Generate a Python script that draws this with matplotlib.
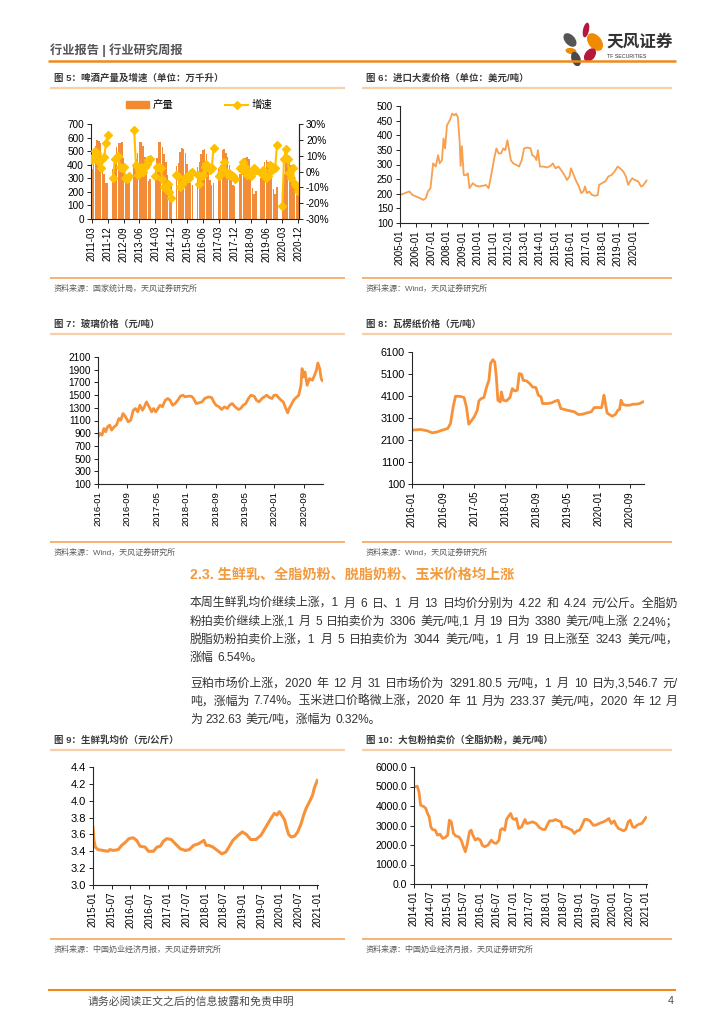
#!/usr/bin/env python3
"""
Page 4 of a TF Securities weekly report: beer, barley, glass, corrugated
paper, raw milk and whole milk powder charts plus the commentary text.
Writes out.png (724x1024).
"""

import numpy as np
import pandas as pd
import matplotlib
matplotlib.use('Agg')
import matplotlib.pyplot as plt
from matplotlib.lines import Line2D
from matplotlib.patches import Ellipse, Patch
from matplotlib.ticker import FuncFormatter

# ---------------------------------------------------------------- data
# beer output (10k kl) and YoY growth (%), Mar..Dec of each year
beer_years = list(range(2011, 2021))
beer_output = [
    [372, 410, 540, 580, 578, 560, 440, 330, 262, 268],
    [365, 430, 530, 560, 560, 565, 452, 320, 270, 285],
    [400, 440, 490, 568, 568, 540, 455, 340, 282, 296],
    [398, 450, 565, 566, 530, 480, 420, 322, 268, 250],
    [392, 412, 496, 522, 516, 485, 405, 300, 262, 248],
    [382, 418, 480, 512, 515, 478, 385, 290, 250, 262],
    [372, 395, 505, 515, 490, 460, 400, 288, 248, 245],
    [332, 345, 430, 448, 458, 440, 350, 225, 186, 205],
    [300, 332, 418, 432, 420, 418, 345, 220, 185, 238],
    [233, 330, 425, 445, 430, 400, 330, 220, 180, 195],
]
beer_growth = [
    [7, 10, 13, 12, 6, 2, 8, 9, 18, 23],
    [-4, 8, 9, 10, 3, 2, 3, -4, -5, -3],
    [26, 4, -2, 1, 3, 0, 3, 5, 7, 8],
    [-3, 3, 3, 2, -5, -10, -11, -8, -13, -17],
    [-2, -3, -10, -8, -6, -4, -3, -4, -1, 0],
    [-2, -8, -3, -2, 3, 5, 3, 1, 2, 15],
    [-3, -1, 2, 6, 0, -2, -1, -2, -3, -5],
    [2, 1, 6, 3, -2, -1, -3, -1, 2, 1],
    [-1, 1, -3, -4, -3, 4, 1, 3, 2, 17],
    [-22, 8, 14, 8, -1, -4, 2, -8, -9, -12],
]

# imported barley price (USD/t), time in decimal years
barley_year = [2005.0, 2005.32, 2005.6, 2005.8, 2006.06, 2006.28, 2006.5, 2006.66,
               2006.8, 2006.96, 2007.13, 2007.3, 2007.45, 2007.55, 2007.7, 2007.8,
               2007.9, 2008.02, 2008.2, 2008.36, 2008.5, 2008.6, 2008.72, 2008.83,
               2008.9, 2008.98, 2009.1, 2009.26, 2009.36, 2009.47, 2009.68, 2009.9,
               2010.1, 2010.32, 2010.53, 2010.7, 2010.85, 2011.06, 2011.2, 2011.34,
               2011.5, 2011.64, 2011.77, 2011.91, 2012.0, 2012.13, 2012.28, 2012.5,
               2012.66, 2012.83, 2012.98, 2013.2, 2013.4, 2013.5, 2013.66, 2013.77,
               2013.87, 2014.0, 2014.2, 2014.47, 2014.68, 2014.83, 2015.0, 2015.2,
               2015.43, 2015.57, 2015.74, 2015.9, 2016.0, 2016.17, 2016.3, 2016.5,
               2016.66, 2016.8, 2016.9, 2017.02, 2017.17, 2017.34, 2017.55, 2017.72,
               2017.8, 2017.98, 2018.2, 2018.4, 2018.6, 2018.8, 2019.0, 2019.15,
               2019.36, 2019.53, 2019.68, 2019.79, 2019.94, 2020.1, 2020.32, 2020.5,
               2020.6, 2020.74, 2020.85]
barley_price = [196, 202, 208, 196, 190, 185, 179, 185,
                208, 219, 304, 293, 332, 304, 315, 389,
                355, 434, 451, 474, 468, 474, 462, 383,
                295, 363, 264, 264, 270, 219, 236, 227,
                225, 227, 230, 219, 259, 321, 355, 338,
                338, 355, 349, 383, 355, 315, 304, 298,
                293, 315, 355, 358, 355, 332, 327, 315,
                349, 293, 293, 290, 295, 304, 287, 293,
                276, 264, 247, 259, 287, 264, 247, 225,
                202, 208, 225, 202, 208, 196, 193, 196,
                230, 236, 242, 259, 264, 276, 293, 287,
                276, 259, 230, 242, 253, 247, 242, 225,
                227, 236, 245]

# glass price (CNY/t), months since 2016-01
glass_month = [0, 0.5, 1.1, 1.6, 2.1, 2.6, 3.2, 3.7, 4.4, 5, 5.7, 6.2, 6.8, 7.5,
               8.2, 8.9, 9.6, 10.2, 10.8, 11.4, 12.1, 12.6, 13.2, 13.9, 14.6,
               15.1, 15.7, 16.3, 16.9, 17.5, 18.3, 19, 19.6, 20.3, 21, 21.7, 22.4,
               23.1, 23.7, 24.5, 25.4, 26, 26.7, 27.4, 28.3, 29, 30, 30.9, 31.5,
               32.1, 32.9, 33.6, 34.4, 35.2, 35.8, 36.5, 37.3, 38.2, 38.8, 39.5,
               40.2, 40.9, 41.6, 42.5, 43.1, 43.8, 44.6, 45.2, 45.9, 46.6, 47.3,
               47.9, 48.6, 49.1, 49.8, 50.4, 50.9, 51.6, 52, 52.5, 53.2, 53.9,
               54.6, 55.2, 55.5, 55.9, 56.3, 56.9, 57.5, 58.3, 58.9, 59.4, 59.8,
               60.3, 60.7, 61]
glass_price = [843, 896, 870, 974, 922, 1001, 1027, 948, 1001, 1027, 1131, 1105,
               1210, 1158, 1079, 1105, 1262, 1289, 1236, 1341, 1262, 1315, 1393,
               1315, 1236, 1289, 1236, 1289, 1341, 1315, 1419, 1446, 1419, 1341,
               1367, 1419, 1482, 1498, 1472, 1482, 1482, 1446, 1367, 1378, 1393,
               1446, 1472, 1462, 1393, 1341, 1315, 1273, 1315, 1289, 1341, 1367,
               1315, 1273, 1289, 1341, 1367, 1446, 1498, 1482, 1419, 1393, 1446,
               1472, 1498, 1462, 1446, 1498, 1498, 1462, 1419, 1393, 1315, 1220,
               1289, 1341, 1419, 1462, 1498, 1655, 1917, 1786, 1865, 1655, 1760,
               1734, 1812, 1891, 2006, 1917, 1760, 1730]

# corrugated paper price (CNY/t), months since 2016-01
paper_month = [0, 2.2, 3.9, 5.2, 6.3, 7.8, 9.2, 9.9, 10.6, 11.2, 12.1, 12.9, 13.4,
               14, 14.6, 15.3, 16.1, 16.8, 17.2, 17.8, 18.5, 19.2, 19.8, 20.2,
               20.8, 21.3, 21.7, 22.1, 22.7, 23, 23.5, 24.3, 25.2, 25.8, 26.4,
               27.1, 27.6, 28.2, 28.6, 29.5, 30.3, 31, 31.9, 32.5, 33.2, 33.6,
               34.9, 35.9, 37, 37.6, 38.3, 39, 39.9, 40.7, 41.8, 42.8, 43.9, 45,
               46.1, 46.9, 47.8, 48.8, 49.4, 49.7, 50.2, 50.8, 51.5, 52.3, 53,
               53.4, 53.8, 54.3, 55.1, 56, 56.8, 57.7, 58.6, 59.4]
paper_price = [2548, 2578, 2518, 2427, 2457, 2548, 2623, 2850, 3606, 4089, 4089,
               4059, 4029, 3606, 2820, 2971, 3182, 3454, 3877, 3983, 4029, 4512,
               4814, 5570, 5751, 5645, 4965, 3907, 3832, 4285, 3907, 3877, 4029,
               4436, 4331, 4361, 5117, 5086, 4814, 4784, 4663, 4512, 4482, 4134,
               4059, 3757, 3757, 3787, 3877, 3907, 3530, 3500, 3454, 3424, 3379,
               3258, 3273, 3333, 3379, 3575, 3575, 3575, 4134, 3832, 3333, 3258,
               3182, 3258, 3454, 3485, 3907, 3711, 3681, 3681, 3726, 3726, 3757,
               3832]

# raw milk average price (CNY/kg), months since 2015-01
milk_month = [0, 0.3, 0.75, 1.6, 3.2, 4.8, 5.4, 6.5, 8.1, 9.2, 10.5, 11.5, 12.9,
              14, 15.1, 16.7, 17.8, 19.4, 20.5, 21.6, 22.6, 23.7, 25.1, 26.4, 28,
              29.6, 30.9, 32.3, 33.9, 35.6, 36.3, 37.2, 38.5, 39.9, 41.3, 42.6,
              43.6, 44.9, 46.3, 47.9, 49.2, 50.6, 52.3, 53.9, 55.5, 57.1, 58.2,
              59, 59.8, 60.7, 61.5, 62.2, 62.8, 63.6, 64.7, 65.7, 66.8, 67.6,
              68.4, 69.5, 70.4, 71.1, 72]
milk_price = [3.68, 3.53, 3.45, 3.42, 3.41, 3.40, 3.42, 3.41, 3.42, 3.47, 3.51,
              3.55, 3.56, 3.53, 3.46, 3.45, 3.40, 3.40, 3.45, 3.46, 3.52, 3.55,
              3.54, 3.49, 3.43, 3.41, 3.42, 3.47, 3.49, 3.53, 3.47, 3.47, 3.45,
              3.41, 3.37, 3.39, 3.45, 3.53, 3.58, 3.63, 3.60, 3.54, 3.54, 3.59,
              3.69, 3.79, 3.85, 3.83, 3.87, 3.82, 3.77, 3.67, 3.60, 3.57, 3.58,
              3.63, 3.73, 3.83, 3.91, 3.99, 4.06, 4.16, 4.24]

# whole milk powder auction price (USD/t), months since 2014-01
wmp_month = [0, 1.2, 1.8, 2.4, 3.7, 4.3, 4.9, 5.5, 6.1, 6.7, 7.7, 8.5, 9.4, 10.4,
             11.3, 12.2, 12.8, 13.5, 14.3, 15.2, 16.2, 17.1, 17.9, 18.6, 19.2,
             20.1, 20.7, 21.3, 22.2, 23.1, 24, 24.7, 25.6, 26.8, 28, 28.9, 29.8,
             30.8, 31.3, 32, 32.9, 33.5, 34.1, 35, 35.7, 36.5, 37.1, 37.9, 39,
             40.2, 40.8, 41.8, 43, 44.2, 45.4, 46.6, 47.5, 48.4, 49.1, 50.3,
             51.2, 52.4, 53.2, 53.8, 54.8, 56, 57.2, 58.1, 59.1, 60, 60.9, 61.8,
             62.7, 63.7, 64.9, 65.8, 66.6, 67.6, 68.6, 69.4, 70.6, 71.5, 72.5,
             73.2, 74.1, 74.9, 75.9, 76.7, 77.6, 78.3, 79.2, 80, 80.8, 81.6,
             82.5, 83.2, 84]
wmp_price = [4979, 5013, 4723, 4041, 3956, 3870, 3615, 3444, 2933, 2796, 2762,
             2506, 2558, 2336, 2387, 2506, 3274, 3188, 2592, 2455, 2421, 2251,
             1910, 1654, 1995, 2677, 2762, 2506, 2251, 2336, 2251, 1995, 1910,
             1995, 2251, 2114, 2080, 2251, 2762, 2847, 2762, 3308, 3444, 3615,
             3359, 3308, 3359, 2847, 2933, 3308, 3103, 3137, 3188, 3103, 2899,
             2796, 2796, 3069, 3240, 3240, 3308, 3240, 3188, 2933, 2933, 2847,
             2762, 2592, 2728, 2762, 3018, 3308, 3308, 3240, 3018, 3018, 3069,
             3137, 3188, 3240, 3359, 3103, 3240, 3018, 2847, 2796, 2728, 2796,
             3188, 3274, 2933, 2899, 3018, 3069, 3103, 3240, 3410]

glass_ticks = ['2016-01', '2016-09', '2017-05', '2018-01', '2018-09',
               '2019-05', '2020-01', '2020-09']
milk_ticks = ['2015-01', '2015-07', '2016-01', '2016-07', '2017-01', '2017-07',
              '2018-01', '2018-07', '2019-01', '2019-07', '2020-01', '2020-07',
              '2021-01']
wmp_ticks = ['2014-01', '2014-07', '2015-01', '2015-07', '2016-01', '2016-07',
             '2017-01', '2017-07', '2018-01', '2018-07', '2019-01', '2019-07',
             '2020-01', '2020-07', '2021-01']

para1 = ['本周生鲜乳均价继续上涨，1 月 6 日、1 月 13 日均价分别为 4.22 和 4.24 元/公斤。全脂奶',
         '粉拍卖价继续上涨,1 月 5 日拍卖价为 3306 美元/吨,1 月 19 日为 3380 美元/吨上涨 2.24%；',
         '脱脂奶粉拍卖价上涨，1 月 5 日拍卖价为 3044 美元/吨，1 月 19 日上涨至 3243 美元/吨，',
         '涨幅 6.54%。']
para2 = ['豆粕市场价上涨，2020 年 12 月 31 日市场价为 3291.80.5 元/吨，1 月 10 日为,3,546.7 元/',
         '吨，涨幅为 7.74%。玉米进口价略微上涨，2020 年 11 月为 233.37 美元/吨，2020 年 12 月',
         '为 232.63 美元/吨，涨幅为 0.32%。']

# ---------------------------------------------------------------- style
W, H = 724, 1024
plt.rcParams['font.family'] = ['Liberation Sans', 'Noto Sans CJK SC', 'DejaVu Sans']
plt.rcParams['axes.linewidth'] = 0.8
plt.rcParams['xtick.direction'] = 'out'
plt.rcParams['ytick.direction'] = 'out'

LINE = '#F7923A'
TITLE_C = '#3A3A3A'
SRC_C = '#5A5A5A'
UNDER_C = '#F9CFA8'
SRC_LINE = '#F5A55A'
HEAD_LINE = '#EE8A1E'
RIGHT = 676

fig = plt.figure(figsize=(W / 100, H / 100), dpi=100)


def px_axes(l, t, r, b):
    return fig.add_axes([l / W, 1 - b / H, (r - l) / W, (b - t) / H])


def ftext(x, y, s, **kw):
    kw.setdefault('va', 'center')
    return fig.text(x / W, 1 - y / H, s, **kw)


def hline(x0, x1, y, color, lw):
    fig.add_artist(Line2D([x0 / W, x1 / W], [1 - y / H, 1 - y / H],
                          color=color, lw=lw, solid_capstyle='butt'))


def frame(x0, x1, title, source, ty, sy):
    ftext(x0 + 4, ty, title, fontsize=6.8, weight='bold', color=TITLE_C)
    hline(x0, x1, ty + 9.5, UNDER_C, 1.6)
    hline(x0, x1, sy - 11, SRC_LINE, 1.2)
    ftext(x0 + 4, sy, source, fontsize=5.8, color=SRC_C)


def style(ax, xfs, yfs):
    ax.spines['top'].set_visible(False)
    ax.spines['right'].set_visible(False)
    for s in ('left', 'bottom'):
        ax.spines[s].set_color('#262626')
    ax.tick_params(axis='y', labelsize=yfs, length=3, width=0.6, pad=2)
    ax.tick_params(axis='x', labelsize=xfs, length=3, width=0.6, pad=2,
                   labelrotation=90)
    ax.set_facecolor('none')


# ---------------------------------------------------------------- header
ftext(50, 50, '行业报告 | 行业研究周报', fontsize=8.8, weight='bold', color='#555555')
hline(48, RIGHT, 61, HEAD_LINE, 1.8)

logo = fig.add_axes([558 / W, 1 - 66 / H, 48 / W, 46 / H])
logo.set_xlim(558, 606)
logo.set_ylim(66, 20)
logo.axis('off')
petals = [((586, 30), 6, 15, 12, '#B5173D'),
          ((570, 40), 10, 16, -42, '#555555'),
          ((595, 42), 13, 20, -38, '#F08A00'),
          ((571, 51), 11, 6, 8, '#F08A00'),
          ((590, 55), 10, 15, 38, '#B5173D'),
          ((576, 59), 9, 15, -20, '#4A4A4A')]
for c, w, h, a, col in petals:
    logo.add_patch(Ellipse(c, w, h, angle=a, color=col, lw=0))
ftext(606, 42, '天风证券', fontsize=12, weight='bold', color='#333333')
ftext(607, 56, 'TF SECURITIES', fontsize=3.8, color='#333333')

# ---------------------------------------------------------------- fig 5 beer
frame(50, 345, '图 5：啤酒产量及增速（单位：万千升）', '资料来源：国家统计局，天风证券研究所', 78, 289)

months = pd.period_range('2011-03', '2020-12', freq='M')
output = pd.Series(np.nan, index=months)
growth = pd.Series(np.nan, index=months)
for y, ov, gv in zip(beer_years, beer_output, beer_growth):
    for i in range(10):
        p = pd.Period(f'{y}-{i + 3:02d}', freq='M')
        output[p] = ov[i]
        growth[p] = gv[i]

ax5 = px_axes(91, 124, 299, 219)
x = np.arange(len(months))
ax5.bar(x, output.values, width=0.85, color='#F28C38', lw=0)
ax5.set_ylim(0, 700)
ax5.set_yticks(range(0, 701, 100))
ax5.set_xlim(-0.5, len(months) - 0.5)
ax5.set_xticks(x[::9])
ax5.set_xticklabels([str(p) for p in months[::9]])
style(ax5, 7, 7.2)
ax5.spines['right'].set_visible(True)
ax5.spines['right'].set_color('#262626')

ax5r = ax5.twinx()
ax5r.plot(x, growth.values, color='#FFC000', lw=1.5, marker='D', ms=3.8,
          mec='#FFC000', mfc='#FFC000')
ax5r.set_ylim(-30, 30)
ax5r.set_yticks(range(-30, 31, 10))
ax5r.yaxis.set_major_formatter(FuncFormatter(lambda v, p: f'{v:.0f}%'))
ax5r.tick_params(axis='y', labelsize=7.2, length=3, width=0.6, pad=2)
for s in ('top', 'left', 'bottom'):
    ax5r.spines[s].set_visible(False)
ax5r.spines['right'].set_color('#262626')
handles = [Patch(color='#F28A30', label='产量'),
           Line2D([], [], color='#FFC000', lw=1.5, marker='D', ms=3.8, label='增速')]
ax5.legend(handles=handles, loc='center', bbox_to_anchor=(0.52, 1.2), ncol=2,
           frameon=False, fontsize=7.5, handlelength=2.2, handleheight=0.6,
           columnspacing=5, handletextpad=0.3)

# ---------------------------------------------------------------- fig 6 barley
frame(362, RIGHT - 4, '图 6：进口大麦价格（单位：美元/吨）', '资料来源：Wind，天风证券研究所', 78, 289)
ax6 = px_axes(400, 106, 648, 223)
ax6.plot(barley_year, barley_price, color='#F7A050', lw=1.3)
ax6.set_ylim(100, 500)
ax6.set_yticks(range(100, 501, 50))
ax6.set_xlim(2005.0, 2020.95)
ax6.set_xticks(range(2005, 2021))
ax6.set_xticklabels([f'{y}-01' for y in range(2005, 2021)])
style(ax6, 7, 7)

# ---------------------------------------------------------------- fig 7 glass
frame(50, 345, '图 7：玻璃价格（元/吨）', '资料来源：Wind，天风证券研究所', 324, 553)
ax7 = px_axes(98, 357, 323, 484)
ax7.plot(glass_month, glass_price, color=LINE, lw=2.0)
ax7.set_ylim(100, 2100)
ax7.set_yticks(range(100, 2101, 200))
ax7.set_xlim(0, 61.2)
ax7.set_xticks(range(0, 57, 8))
ax7.set_xticklabels(glass_ticks)
style(ax7, 6.8, 7.2)

# ---------------------------------------------------------------- fig 8 paper
frame(362, RIGHT - 4, '图 8：瓦楞纸价格（元/吨）', '资料来源：Wind，天风证券研究所', 324, 553)
ax8 = px_axes(412, 352, 644, 484)
ax8.plot(paper_month, paper_price, color=LINE, lw=2.0)
ax8.set_ylim(100, 6100)
ax8.set_yticks(range(100, 6101, 1000))
ax8.set_xlim(0, 59.7)
ax8.set_xticks(range(0, 57, 8))
ax8.set_xticklabels(glass_ticks)
style(ax8, 7, 7.8)

# ---------------------------------------------------------------- text block
ftext(190, 575, '2.3. 生鲜乳、全脂奶粉、脱脂奶粉、玉米价格均上涨', fontsize=10.2,
      weight='bold', color='#F39A3D')

renderer = fig.canvas.get_renderer()


def justify(line, y, x0=190, x1=RIGHT + 2, stretch=True):
    toks = line.split(' ')
    objs = [ftext(0, y, t, fontsize=8.6, color='#333333') for t in toks]
    ws = [o.get_window_extent(renderer).width for o in objs]
    if stretch and len(toks) > 1:
        gap = (x1 - x0 - sum(ws)) / (len(toks) - 1)
    else:
        gap = 3.5
    pos = x0
    for o, w in zip(objs, ws):
        o.set_x(pos / W)
        pos += w + gap


for i, line in enumerate(para1):
    justify(line, 604 + i * 18, stretch=i < len(para1) - 1)
for i, line in enumerate(para2):
    justify(line, 684 + i * 18, stretch=i < len(para2) - 1)

# ---------------------------------------------------------------- fig 9 milk
frame(50, 345, '图 9：生鲜乳均价（元/公斤）', '资料来源：中国奶业经济月报，天风证券研究所', 740, 950)
ax9 = px_axes(93, 767, 318, 885)
ax9.plot(milk_month, milk_price, color=LINE, lw=2.2)
ax9.set_ylim(3.0, 4.4)
ax9.set_yticks(np.arange(3.0, 4.41, 0.2))
ax9.yaxis.set_major_formatter(FuncFormatter(lambda v, p: f'{v:.1f}'))
ax9.set_xlim(0, 72.2)
ax9.set_xticks(range(0, 73, 6))
ax9.set_xticklabels(milk_ticks)
style(ax9, 7, 8)

# ---------------------------------------------------------------- fig 10 WMP
frame(362, RIGHT - 4, '图 10：大包粉拍卖价（全脂奶粉，美元/吨）', '资料来源：中国奶业经济月报，天风证券研究所', 740, 950)
ax10 = px_axes(414, 767, 647, 884)
ax10.plot(wmp_month, wmp_price, color=LINE, lw=2.0)
ax10.set_ylim(0, 6000)
ax10.set_yticks(range(0, 6001, 1000))
ax10.yaxis.set_major_formatter(FuncFormatter(lambda v, p: f'{v:.1f}'))
ax10.set_xlim(0, 84.4)
ax10.set_xticks(range(0, 85, 6))
ax10.set_xticklabels(wmp_ticks)
style(ax10, 7, 7.6)

# ---------------------------------------------------------------- footer
hline(48, RIGHT, 990, HEAD_LINE, 1.5)
ftext(88, 1001, '请务必阅读正文之后的信息披露和免责申明', fontsize=7.8, color='#4A4A4A')
ftext(668, 1001, '4', fontsize=7.8, color='#4A4A4A')

fig.savefig('out.png', dpi=100)
